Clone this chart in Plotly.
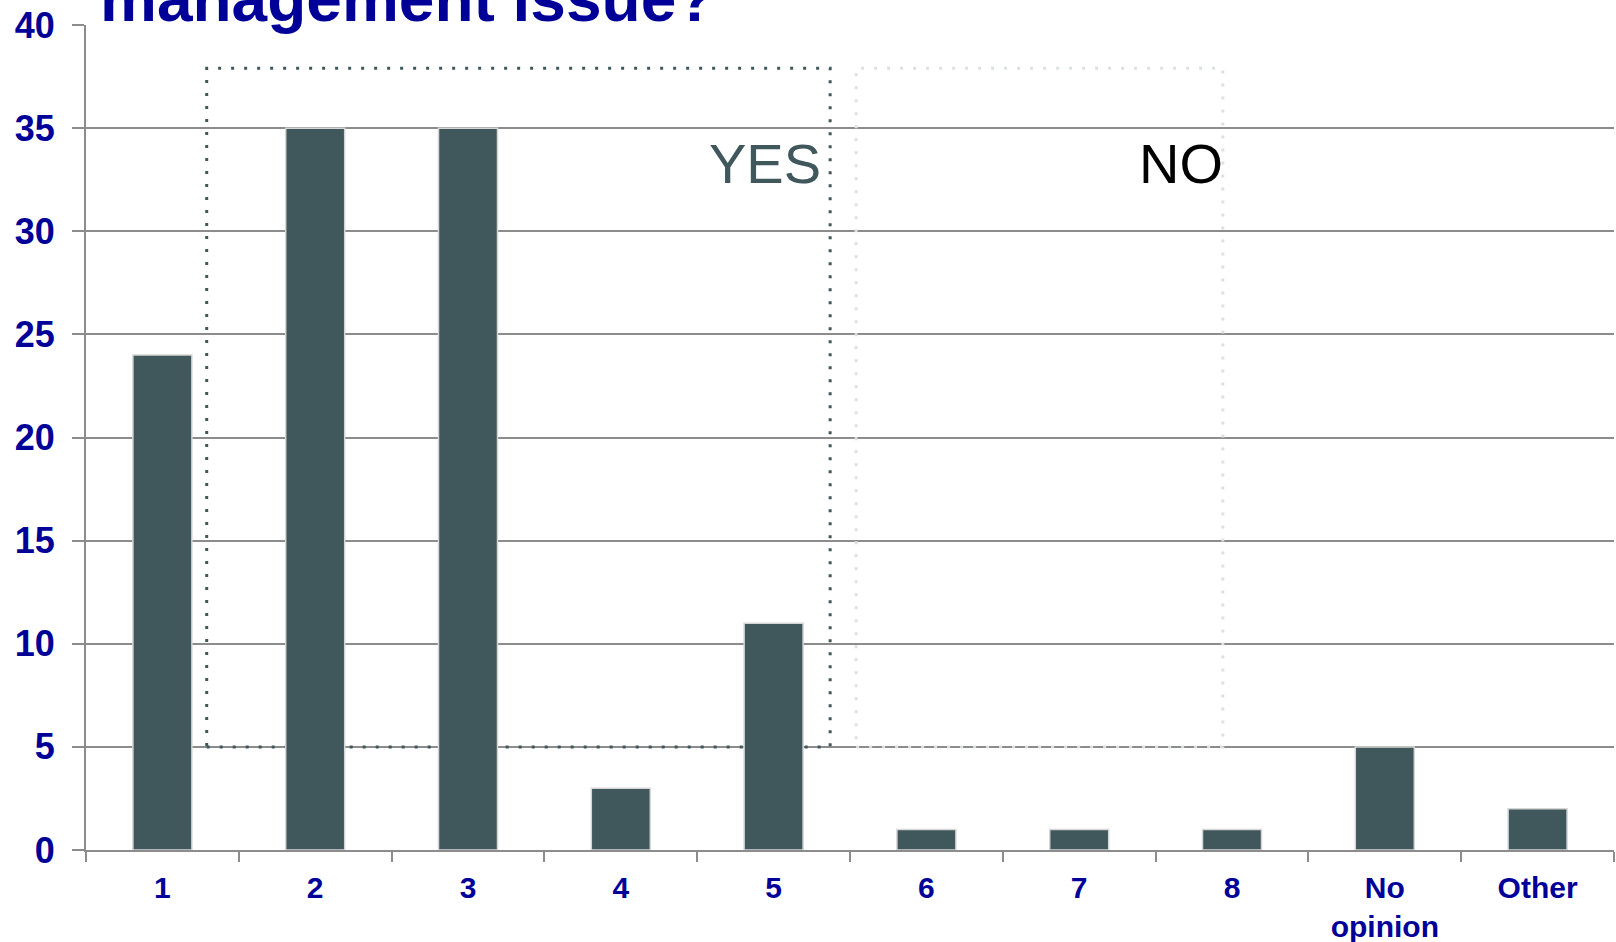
import plotly.graph_objects as go

# ---- data ----
categories = ["1", "2", "3", "4", "5", "6", "7", "8", "No<br>opinion", "Other"]
values = [24, 35, 35, 3, 11, 1, 1, 1, 5, 2]
group_labels = ["YES", "NO"]
title_text = "management issue?"

BAR = "#40575B"
NAVY = "#000099"
GRID = "#8C8C8C"
FONT = "Arial, Liberation Sans, sans-serif"

fig = go.Figure()
fig.add_trace(go.Bar(
    x=categories, y=values,
    marker=dict(color=BAR, line=dict(color="#D6D6D6", width=1.5)),
    hoverinfo="skip",
))

# group boxes (YES dark dotted, NO light dotted); x in category-index units
fig.add_shape(type="rect", xref="x", yref="y", x0=0.29, x1=4.37, y0=5, y1=37.9,
              line=dict(color=BAR, width=3, dash="3px,10px"), layer="between")
fig.add_shape(type="rect", xref="x", yref="y", x0=4.54, x1=6.94, y0=5, y1=37.9,
              line=dict(color="#DDE1E4", width=3, dash="3px,10px"), layer="between")

fig.add_annotation(x=4.32, y=33.3, xref="x", yref="y", text=group_labels[0],
                   showarrow=False, xanchor="right", yanchor="middle",
                   font=dict(family=FONT, size=56, color=BAR))
fig.add_annotation(x=6.955, y=33.3, xref="x", yref="y", text=group_labels[1],
                   showarrow=False, xanchor="right", yanchor="middle",
                   font=dict(family=FONT, size=56, color="#000000"))

fig.add_annotation(x=0.008, y=0.985, xref="paper", yref="paper", text="<b>" + title_text + "</b>",
                   showarrow=False, xanchor="left", yanchor="bottom",
                   font=dict(family=FONT, size=64, color=NAVY))

fig.update_layout(
    width=1616, height=942,
    margin=dict(l=86, r=2, t=25, b=92),
    paper_bgcolor="white", plot_bgcolor="white",
    bargap=0.614, showlegend=False,
    font=dict(family=FONT, color=NAVY),
)
fig.update_xaxes(
    type="category", tickson="boundaries",
    range=[-0.5, len(categories) - 0.5],
    tickprefix="<b>", ticksuffix="</b>",
    showline=True, linecolor=GRID, linewidth=2,
    ticks="outside", ticklen=10, tickcolor=GRID, tickwidth=2,
    tickfont=dict(family=FONT, size=30, color=NAVY),
    ticklabelstandoff=10,
    showgrid=False, zeroline=False, automargin=False,
)
fig.update_yaxes(
    range=[0, 40], dtick=5, tick0=0,
    showline=True, linecolor=GRID, linewidth=2,
    ticks="outside", ticklen=12, tickcolor=GRID, tickwidth=2,
    showgrid=True, gridcolor=GRID, gridwidth=2,
    zeroline=False, automargin=False,
    tickfont=dict(family=FONT, size=36, color=NAVY),
    tickprefix="<b>", ticksuffix="</b>",
    ticklabelstandoff=10,
)

fig.write_html(
    "out.html",
    config={"displayModeBar": False},
    post_script="document.body.style.margin='0';document.body.style.overflow='hidden';",
)
